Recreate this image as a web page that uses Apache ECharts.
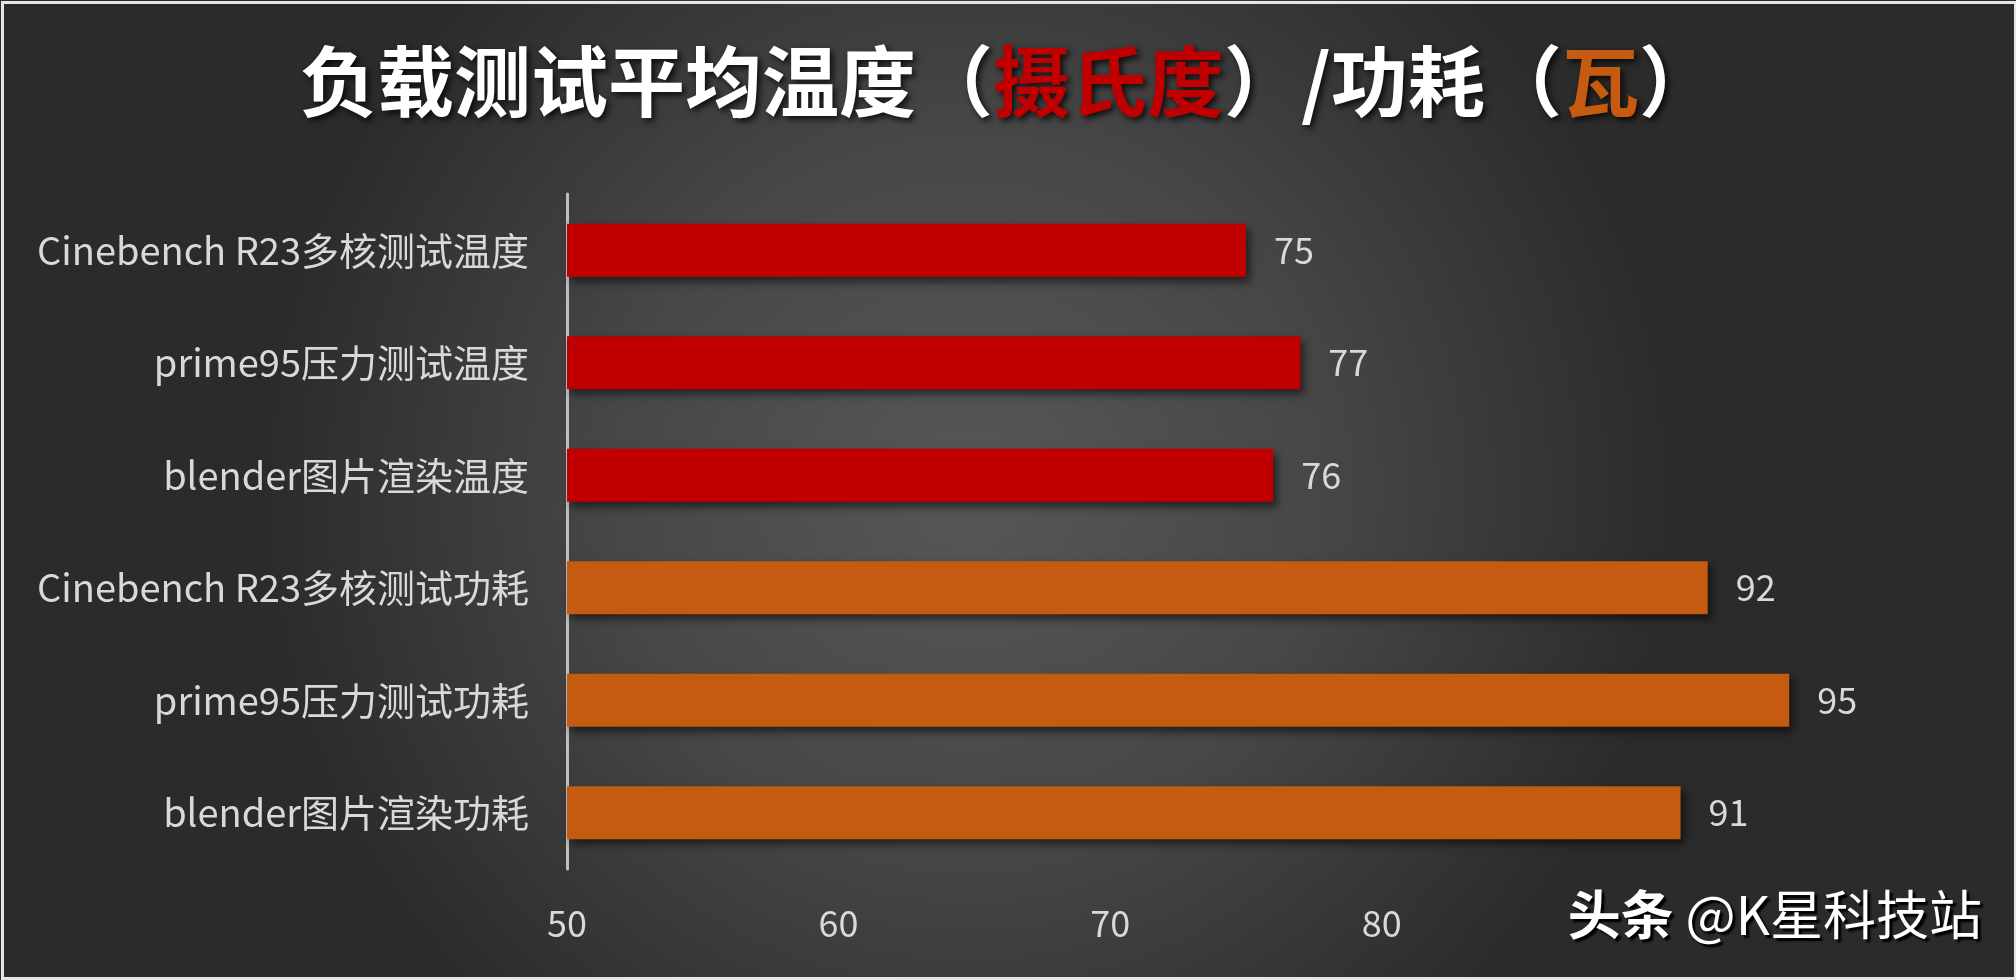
<!DOCTYPE html>
<html>
<head>
<meta charset="utf-8">
<script src="https://cdn.jsdelivr.net/npm/echarts@6/dist/echarts.min.js"></script>
<style>
html,body{margin:0;padding:0;background:#e8e8e8;}
#chart{width:2016px;height:980px;}
</style>
</head>
<body>
<div id="chart"></div>
<script>
// ---- data ----
const categories = [
  'Cinebench R23多核测试温度',
  'prime95压力测试温度',
  'blender图片渲染温度',
  'Cinebench R23多核测试功耗',
  'prime95压力测试功耗',
  'blender图片渲染功耗'
];
const tempValues = [75, 77, 76];      // 摄氏度
const powerValues = [92, 95, 91];     // 瓦
const xTickLabels = [50, 60, 70, 80]; // visible tick labels
const titleParts = ['负载测试平均温度（', '摄氏度', '）/功耗（', '瓦', '）'];
const watermark = ['头条', ' @K星科技站'];

const FONT = '"Noto Sans CJK SC", "Noto Sans", sans-serif';
const RED = '#C00000';
const ORANGE = '#C55A11';
const LABEL = '#d9d9d9';

const tempData = categories.map((c, i) => i < tempValues.length ? tempValues[i] : '-');
const powerData = categories.map((c, i) => i >= tempValues.length ? powerValues[i - tempValues.length] : '-');

const barShadow = {
  shadowBlur: 8,
  shadowOffsetX: 4,
  shadowOffsetY: 5,
  shadowColor: 'rgba(0,0,0,0.55)'
};
const titleShadow = {textShadowColor: 'rgba(0,0,0,0.8)', textShadowBlur: 6, textShadowOffsetX: 3, textShadowOffsetY: 3};

const chart = echarts.init(document.getElementById('chart'), null, {renderer: 'canvas'});
chart.setOption({
  animation: false,
  backgroundColor: {
    type: 'radial', x: 0.48, y: 0.5, r: 0.72,
    colorStops: [
      {offset: 0, color: '#575757'},
      {offset: 0.5, color: '#474747'},
      {offset: 1, color: '#2b2b2b'}
    ]
  },
  title: {
    text: '{w|' + titleParts[0] + '}{r|' + titleParts[1] + '}{w|' + titleParts[2] + '}{o|' + titleParts[3] + '}{w|' + titleParts[4] + '}',
    left: 'center',
    top: 38,
    textStyle: {
      rich: {
        w: Object.assign({color: '#ffffff', fontSize: 77, fontWeight: 'bold', fontFamily: FONT}, titleShadow),
        r: Object.assign({color: RED, fontSize: 77, fontWeight: 'bold', fontFamily: FONT}, titleShadow),
        o: Object.assign({color: ORANGE, fontSize: 77, fontWeight: 'bold', fontFamily: FONT}, titleShadow)
      }
    }
  },
  grid: {left: 567, right: 91, top: 194, bottom: 111, containLabel: false},
  xAxis: {
    type: 'value',
    min: 50, max: 100, interval: 10,
    axisLine: {show: false},
    axisTick: {show: false},
    splitLine: {show: false},
    axisLabel: {
      color: LABEL, fontSize: 36, fontFamily: FONT, margin: 36,
      formatter: v => xTickLabels.indexOf(v) >= 0 ? String(v) : ''
    }
  },
  yAxis: {
    type: 'category',
    inverse: true,
    data: categories,
    axisLine: {show: true, lineStyle: {color: '#bfbfbf', width: 3}},
    axisTick: {show: false},
    axisLabel: {color: LABEL, fontSize: 38, fontFamily: FONT, margin: 38}
  },
  series: [
    {
      name: '温度', type: 'bar', data: tempData, barWidth: 53, barGap: '-100%',
      itemStyle: Object.assign({color: RED}, barShadow),
      label: {show: true, position: 'right', distance: 28, color: LABEL, fontSize: 36, fontFamily: FONT}
    },
    {
      name: '功耗', type: 'bar', data: powerData, barWidth: 53, barGap: '-100%',
      itemStyle: Object.assign({color: ORANGE}, barShadow),
      label: {show: true, position: 'right', distance: 28, color: LABEL, fontSize: 36, fontFamily: FONT}
    }
  ],
  graphic: [
    {
      type: 'text', right: 34, top: 888, z: 100,
      style: {
        text: '{b|' + watermark[0] + '}{n|' + watermark[1] + '}',
        rich: {
          b: {fill: '#ffffff', fontSize: 53, fontWeight: 'bold', fontFamily: FONT,
              textShadowColor: '#000', textShadowBlur: 2, textShadowOffsetX: 3, textShadowOffsetY: 3},
          n: {fill: '#ffffff', fontSize: 53, fontWeight: 'normal', fontFamily: FONT,
              textShadowColor: '#000', textShadowBlur: 2, textShadowOffsetX: 3, textShadowOffsetY: 3}
        }
      }
    },
    {
      type: 'rect', left: 0, top: 0, z: 101, silent: true,
      shape: {x: 1, y: 1, width: 2013, height: 976},
      style: {fill: 'none', stroke: '#e6e6e6', lineWidth: 3}
    }
  ]
});
</script>
</body>
</html>
